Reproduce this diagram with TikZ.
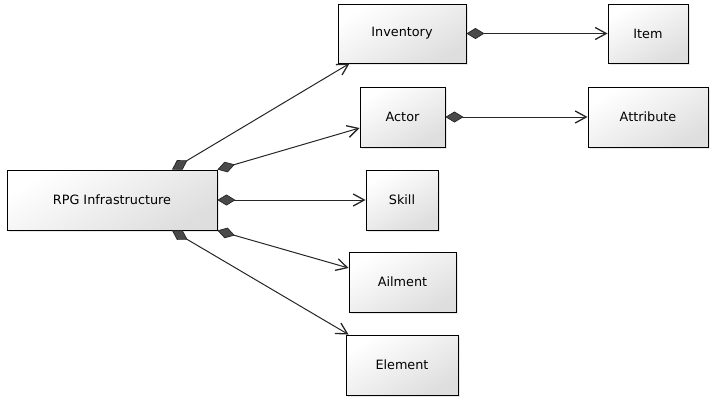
\documentclass[tikz,border=0pt]{standalone}
\usepackage{fontspec}
\setmainfont{DejaVu Sans}
\usetikzlibrary{positioning,arrows.meta,shadows}
\definecolor{boxTop}{HTML}{FFFFFF}
\definecolor{boxBot}{HTML}{DEDEDE}
\definecolor{diaC}{HTML}{4A4A4A}
\tikzset{
  cls/.style={draw, rectangle, align=center, font=\fontsize{12.8}{15}\selectfont,
              top color=boxTop, bottom color=boxBot, shading angle=30,
              drop shadow={opacity=0.18, shadow xshift=1.5pt, shadow yshift=-1.5pt},
              line width=0.9pt, inner sep=0pt, minimum height=60pt},
  owns/.style={{Diamond[length=18pt,width=11pt,fill=diaC,line width=0.7pt]}-{Straight Barb[length=11pt,width=12pt,line width=1.3pt]},
               line width=1pt, draw=black!85},
}
\begin{document}
\begin{tikzpicture}[x=1pt,y=-1pt]
\useasboundingbox (0,0) rectangle (715,400);
% classes
\node[cls, minimum width=210pt] (rpg) at (112,200) {RPG Infrastructure};
\node[cls, minimum width=128pt, minimum height=59pt] (inv) at (402,33.5) {Inventory};
\node[cls, minimum width=80pt, minimum height=59pt] (item) at (648,33.5) {Item};
\node[cls, minimum width=85pt] (actor) at (402.5,117) {Actor};
\node[cls, minimum width=120pt] (attr) at (648,117) {Attribute};
\node[cls, minimum width=72pt] (skill) at (402,200) {Skill};
\node[cls, minimum width=107pt] (ail) at (402.5,282) {Ailment};
\node[cls, minimum width=112pt] (elem) at (402,365) {Element};
% compositions
\draw[owns] ([xshift=60pt]rpg.north) -- ([xshift=12pt]inv.south west);
\draw[owns] (rpg.north east) -- ([yshift=-11pt]actor.west);
\draw[owns] (rpg.east) -- (skill.west);
\draw[owns] (rpg.south east) -- ([yshift=14pt]ail.west);
\draw[owns] ([xshift=60pt]rpg.south) -- ([xshift=3pt]elem.north west);
\draw[owns] (inv.east) -- (item.west);
\draw[owns] (actor.east) -- (attr.west);
\end{tikzpicture}
\end{document}
